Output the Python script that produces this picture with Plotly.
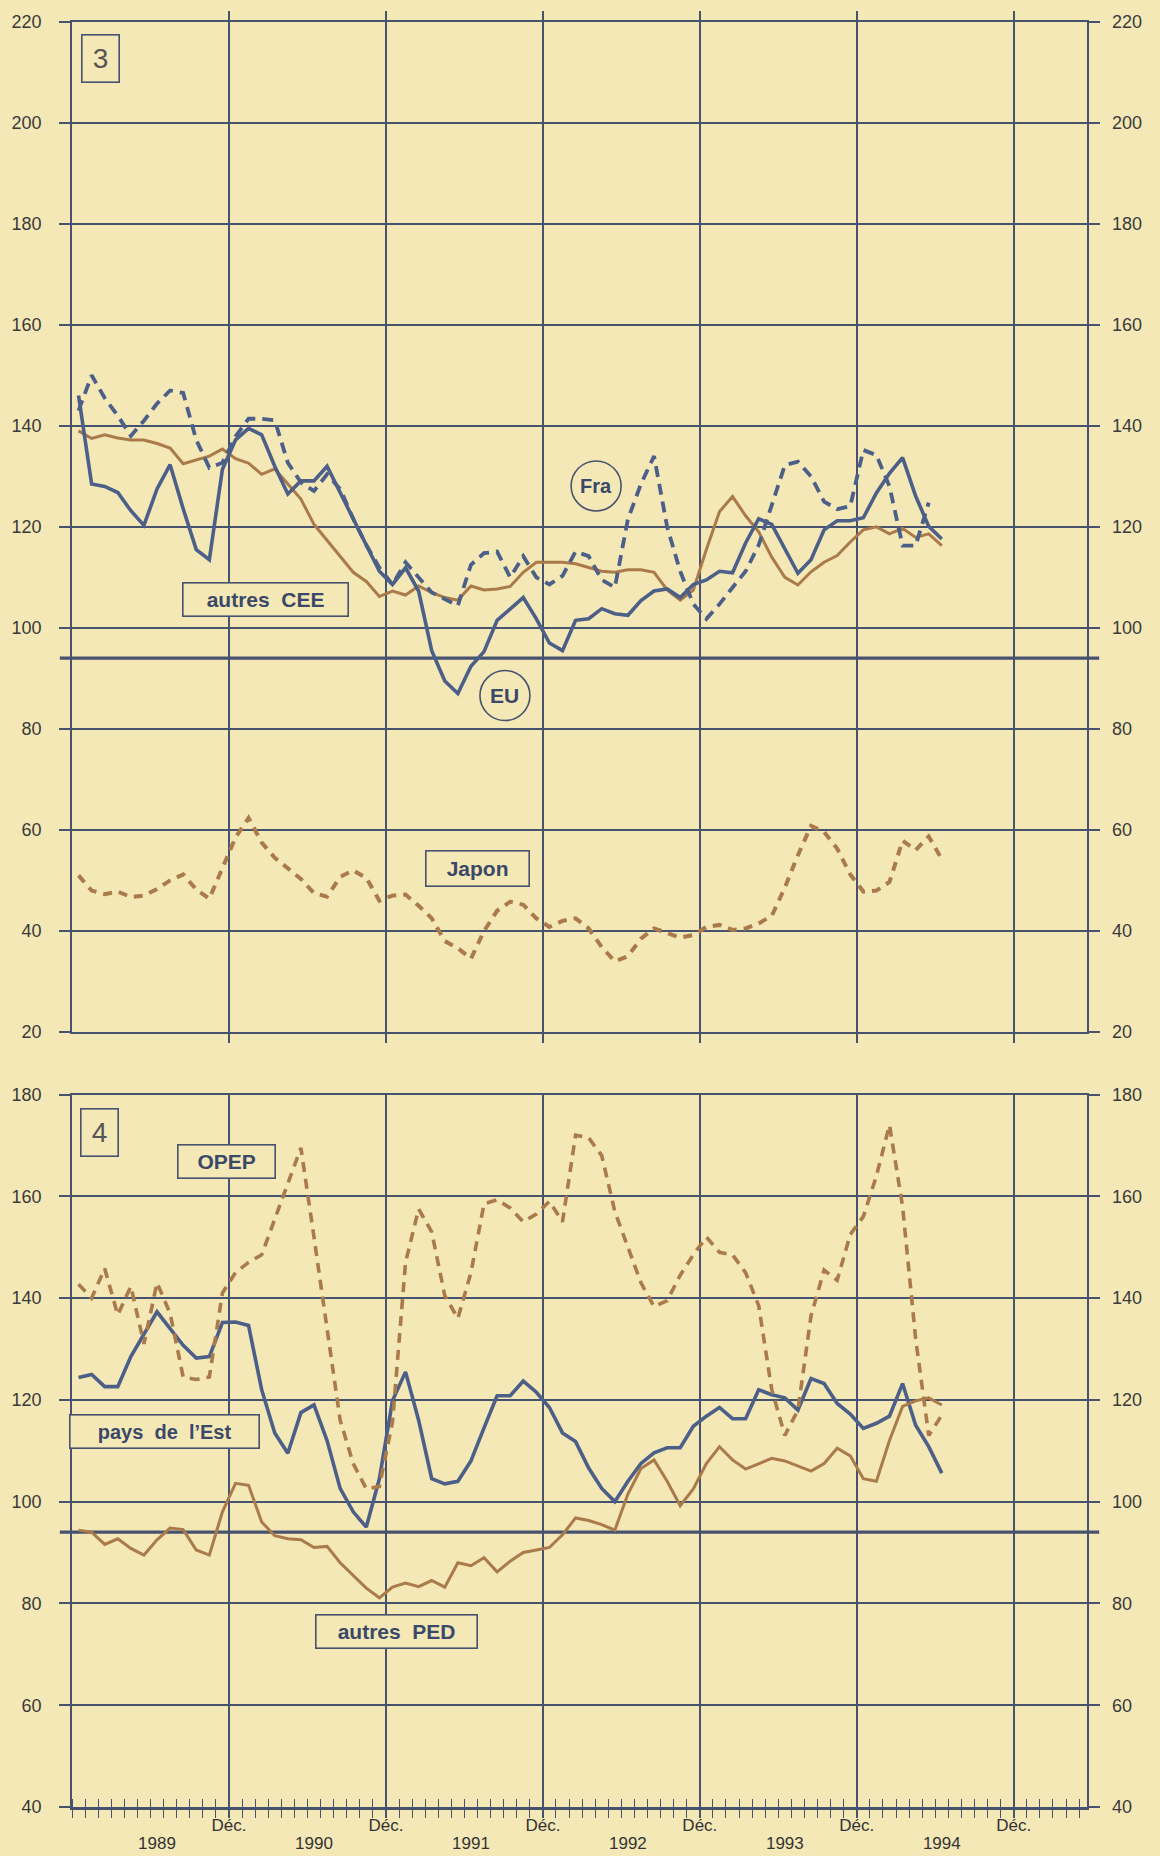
import plotly.graph_objects as go

# ---------------- data (monthly, Jan 1989 .. Jul 1994) ----------------
years = ["1989", "1990", "1991", "1992", "1993", "1994"]
dec_label = "Déc."
months = [f"{1989 + i // 12}-{i % 12 + 1:02d}" for i in range(67)]

# panel 3
autres_cee = [139, 137.5, 138.2, 137.6, 137.2, 137.2, 136.5, 135.6, 132.5, 133.2,
              134, 135.4, 133.5, 132.6, 130.4, 131.5, 128.5, 125.5, 120.5, 117.3,
              114.3, 111, 109.2, 106.2, 107.3, 106.5, 108.3, 107, 106, 105.5,
              108.3, 107.5, 107.7, 108.2, 111, 113, 113, 113, 112.7, 112,
              111.2, 111, 111.5, 111.5, 111, 107.5, 105.5, 107.5, 115.5, 123,
              126, 122.2, 119, 114, 110, 108.5, 111.1, 113, 114.3, 117,
              119.4, 120, 118.6, 119.7, 117.9, 118.6, 116.3]
eu = [146, 128.5, 128, 126.8, 123.2, 120.3, 127.5, 132.3, 123.6, 115.5,
      113.5, 131.4, 137.2, 139.5, 138.2, 132, 126.5, 129.1, 129.1, 132,
      126.8, 121.6, 116.4, 111.2, 108.6, 111.9, 107.3, 95.5, 89.5, 87,
      92.4, 95.3, 101.5, 103.8, 106, 101.8, 97, 95.5, 101.5, 101.8,
      103.8, 102.8, 102.5, 105.4, 107.3, 107.7, 106, 108.6, 109.5, 111.2,
      110.9, 116.8, 121.6, 120.5, 115.8, 110.8, 113.5, 119.4, 121.2, 121.2,
      121.8, 126.7, 130.6, 133.7, 126.1, 120.1, 117.6]
fra = [143, 150, 145.5, 142, 138, 141, 144.4, 147, 146.5, 137.2,
       131.7, 132.7, 137.9, 141.4, 141.4, 141.1, 132.7, 128.8, 127.1, 130.4,
       127.5, 121.6, 116.4, 111.9, 108.6, 113, 110, 107, 105.7, 104.4,
       112.5, 114.8, 115.1, 110, 114.2, 110, 108.6, 110.3, 115.1, 114.2,
       109.5, 108, 121.5, 128.5, 134, 120, 111.2, 104.7, 101.8, 104.7,
       108, 111.2, 116.4, 124.5, 132.2, 132.9, 130, 125, 123.5, 124.1,
       135.2, 134.2, 128, 116.3, 116.3, 124.8]
japon = [51, 48, 47.3, 47.8, 46.7, 47, 48.3, 50, 51.2, 48.2,
         46.4, 52.5, 58.5, 62.4, 57.5, 54.5, 52.5, 50.3, 47.5, 46.8,
         50.7, 52, 50.5, 46, 47, 47.2, 45, 42.5, 38, 36.6,
         34.5, 40, 44, 45.8, 45.2, 42.5, 40.8, 42, 42.5, 40.5,
         36.8, 34, 35, 38.5, 40.5, 39.5, 38.7, 39.2, 40.8, 41.2,
         40.2, 40.5, 41.5, 43, 48.6, 55, 60.8, 59.6, 56.3, 51.2,
         47.8, 48, 49.7, 57.9, 56, 58.7, 54.2]

# panel 4
pays_est = [124.4, 125, 122.6, 122.6, 128.5, 133, 137.3, 134, 130.7, 128.2,
            128.5, 135.2, 135.3, 134.6, 122, 113.5, 109.5, 117.5, 119, 112,
            102.6, 98, 95, 104.5, 119.8, 125.5, 116, 104.5, 103.5, 104,
            108, 114.5, 120.8, 120.8, 123.7, 121.5, 118.5, 113.5, 111.8, 106.6,
            102.6, 100, 104, 107.5, 109.6, 110.6, 110.6, 114.8, 116.8, 118.5,
            116.3, 116.3, 122, 121, 120.4, 118, 124.2, 123.2, 119.3, 117.2,
            114.4, 115.4, 116.8, 123.2, 115, 110.8, 105.6]
opep = [142.7, 140, 145.8, 136.7, 142.3, 131, 143, 137, 124.5, 124,
        124.5, 141, 145, 147, 148.5, 155.5, 162, 169.5, 152, 134,
        116, 107.5, 102.5, 103, 115.6, 147, 157.5, 153, 140.5, 136,
        145, 158.5, 159.3, 157.7, 155, 156.5, 159, 155, 172, 171.5,
        168, 157, 150, 143, 138.3, 139.5, 144.5, 148.5, 152, 149,
        148.5, 145, 138.5, 122, 113, 118, 136.5, 145.5, 143.5, 152.5,
        156, 164, 174, 158, 132, 113, 117]
autres_ped = [94.4, 94, 91.6, 92.7, 90.8, 89.5, 92.5, 94.8, 94.5, 90.5,
              89.5, 98, 103.6, 103.2, 96, 93.3, 92.7, 92.5, 91, 91.2,
              88, 85.5, 83, 81.1, 83.2, 84, 83.3, 84.5, 83.2, 88,
              87.4, 89, 86.2, 88.3, 90, 90.5, 91, 93.5, 96.8, 96.3,
              95.5, 94.4, 101.5, 106.5, 108.2, 104, 99.2, 102.5, 107.5, 110.8,
              108.2, 106.4, 107.4, 108.5, 108, 107, 106, 107.5, 110.5, 109,
              104.5, 104, 112, 118.7, 119.8, 120.4, 119]

baseline = 94

# ---------------- styling ----------------
PAPER = "#f4e8b6"
GRID = "#46526e"
BLUE = "#4c5f88"
BROWN = "#ab7a4b"
TXT = "#3b4868"
FONT = "Liberation Sans, Arial, sans-serif"
NARROW = "Liberation Sans Narrow, Liberation Sans, Arial, sans-serif"

def xpos(series):
    # month-centre position on a month axis starting at 0 = 1 Jan 1989
    return [i + 0.5 for i in range(len(series))]

fig = go.Figure()

# panel 3
fig.add_trace(go.Scatter(x=xpos(autres_cee), y=autres_cee, name="autres CEE", mode="lines",
                         line=dict(color=BROWN, width=3), xaxis="x", yaxis="y"))
fig.add_trace(go.Scatter(x=xpos(japon), y=japon, name="Japon", mode="lines",
                         line=dict(color=BROWN, width=4, dash="9px,7px"), xaxis="x", yaxis="y3"))
fig.add_trace(go.Scatter(x=xpos(fra), y=fra, name="Fra", mode="lines",
                         line=dict(color=BLUE, width=3.8, dash="11px,7px"), xaxis="x", yaxis="y"))
fig.add_trace(go.Scatter(x=xpos(eu), y=eu, name="EU", mode="lines",
                         line=dict(color=BLUE, width=3.6), xaxis="x", yaxis="y"))

# panel 4
fig.add_trace(go.Scatter(x=xpos(autres_ped), y=autres_ped, name="autres PED", mode="lines",
                         line=dict(color=BROWN, width=3), xaxis="x3", yaxis="y2"))
fig.add_trace(go.Scatter(x=xpos(opep), y=opep, name="OPEP", mode="lines",
                         line=dict(color=BROWN, width=3.6, dash="10px,7px"), xaxis="x2", yaxis="y4"))
fig.add_trace(go.Scatter(x=xpos(pays_est), y=pays_est, name="pays de l’Est", mode="lines",
                         line=dict(color=BLUE, width=3.6), xaxis="x2", yaxis="y2"))

W, H = 1160, 1856
xdom = [72 / W, 1087 / W]
xr = [0, 77.6]
dec_vals = [12 * (i + 1) for i in range(len(years))]
year_vals = [12 * i + 6.5 for i in range(len(years))]
top_dom = [1 - 1032 / H, 1 - 21.7 / H]
bot_dom = [1 - 1807 / H, 1 - 1094.5 / H]

yax_common = dict(dtick=20, tick0=0, ticks="outside", ticklen=11, tickwidth=1.6, tickcolor=GRID,
                  showgrid=True, gridcolor=GRID, gridwidth=1.6, zeroline=False,
                  showline=True, linecolor=GRID, linewidth=1.6, mirror="ticks", automargin=False,
                  tickfont=dict(family=FONT, size=18, color="#3a3a3a"), ticklabelstandoff=14)
yax_right = dict(dtick=20, tick0=0, ticks="", showgrid=False, zeroline=False, showline=False,
                 side="right", tickfont=dict(family=FONT, size=18, color="#3a3a3a"),
                 ticklabelstandoff=24, automargin=False)

fig.update_layout(
    width=W, height=H, margin=dict(l=0, r=0, t=0, b=0, pad=0, autoexpand=False),
    paper_bgcolor=PAPER, plot_bgcolor=PAPER, showlegend=False,
    xaxis=dict(domain=xdom, range=xr, anchor="y", tickmode="array", tickvals=dec_vals,
               showticklabels=False, ticks="outside", ticklen=9, tickwidth=1.6, tickcolor=GRID,
               mirror="ticks", showgrid=True, gridcolor=GRID, gridwidth=1.6, zeroline=False,
               showline=True, linecolor=GRID, linewidth=1.6, automargin=False),
    yaxis=dict(domain=top_dom, range=[20, 220], anchor="x", **yax_common),
    yaxis3=dict(range=[20, 220], anchor="x", overlaying="y", **yax_right),
    xaxis2=dict(domain=xdom, range=xr, anchor="y2", tickmode="array", tickvals=dec_vals,
                ticktext=[dec_label] * len(dec_vals), ticks="outside", ticklen=9, tickwidth=1.6,
                tickcolor=GRID, showgrid=True, gridcolor=GRID, gridwidth=1.6, zeroline=False,
                showline=True, mirror=True, linecolor=GRID, linewidth=1.6, automargin=False,
                tickfont=dict(family=NARROW, size=17, color="#333"), ticklabelstandoff=-7,
                minor=dict(ticks="outside", dtick=1, tick0=0, ticklen=9, tickwidth=1.4,
                           tickcolor=GRID, showgrid=False)),
    xaxis3=dict(range=xr, anchor="y2", overlaying="x2", side="bottom", tickmode="array",
                tickvals=year_vals, ticktext=years, ticks="", showgrid=False, zeroline=False,
                showline=True, linecolor=GRID, linewidth=2.6, automargin=False,
                tickfont=dict(family=NARROW, size=17, color="#333"), ticklabelstandoff=19,
                minor=dict(ticks="inside", dtick=1, tick0=0, ticklen=8, tickwidth=1.4,
                           tickcolor=GRID, showgrid=False)),
    yaxis2=dict(domain=bot_dom, range=[40, 180], anchor="x2", **yax_common),
    yaxis4=dict(range=[40, 180], anchor="x2", overlaying="y2", **yax_right),
)

# thick reference lines
for xd, yr in (("x domain", "y"), ("x2 domain", "y2")):
    fig.add_shape(type="line", xref=xd, yref=yr, x0=-0.012, x1=1.012, y0=baseline, y1=baseline,
                  line=dict(color=GRID, width=3.2), layer="below")

# circled labels
for cx, cy in ((40.07, 128.1), (33.1, 86.6)):
    fig.add_shape(type="circle", xref="x", yref="y", xsizemode="pixel", ysizemode="pixel",
                  xanchor=cx, yanchor=cy, x0=-25, x1=25, y0=-25, y1=25,
                  line=dict(color=GRID, width=1.6), fillcolor=PAPER, layer="above")

def label(text, x, y, xref, yref, w, h, size=21, bold=True, border=True, color=TXT):
    fig.add_annotation(text=f"<b>{text}</b>" if bold else text, x=x, y=y, xref=xref, yref=yref,
                       showarrow=False, font=dict(family=FONT, size=size, color=color),
                       bordercolor=GRID if border else "rgba(0,0,0,0)", borderwidth=1.6 if border else 0,
                       borderpad=2, bgcolor=PAPER if border else "rgba(0,0,0,0)",
                       width=w, height=h, align="center", valign="middle")

label("3", 2.2, 212.8, "x", "y", 32, 42, size=28, bold=False, color="#555")
label("autres  CEE", 14.8, 105.6, "x", "y", 160, 28)
label("Fra", 40.07, 128.1, "x", "y", None, None, size=20, border=False)
label("EU", 33.1, 86.6, "x", "y", None, None, size=21, border=False)
label("Japon", 31.0, 52.4, "x", "y", 98, 30)

label("4", 2.07, 172.6, "x2", "y2", 32, 42, size=28, bold=False, color="#555")
label("OPEP", 11.8, 166.8, "x2", "y2", 92, 28)
label("pays  de  l’Est", 7.1, 113.8, "x2", "y2", 184, 28, size=20)
label("autres  PED", 24.8, 74.4, "x2", "y2", 156, 28)

fig.write_html("out.html", config={"displayModeBar": False},
               post_script="document.body.style.margin='0px';"
                           "document.body.style.background='" + PAPER + "';")
